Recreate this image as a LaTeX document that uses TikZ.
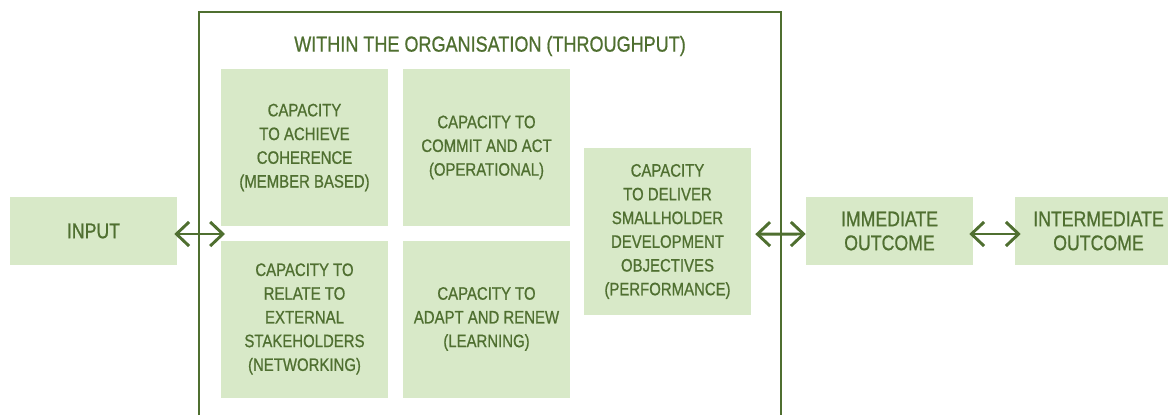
\documentclass[tikz,border=0pt]{standalone}
\usepackage{fontspec}
\setmainfont{Liberation Sans}[FakeStretch=0.83,FakeBold=0.8]
\usepackage{xcolor}
\usetikzlibrary{arrows.meta}
\definecolor{leaf}{HTML}{D8E9C8}
\definecolor{moss}{HTML}{4F6F30}

\begin{document}
\begin{tikzpicture}[x=0.75pt,y=-0.75pt,
    capbox/.style={fill=leaf,text=moss,align=center,inner sep=0pt,
        minimum width=125.25pt,minimum height=117.75pt,
        font=\fontsize{13.5}{17.8}\selectfont},
    endbox/.style={capbox,minimum height=51pt,font=\fontsize{16}{18}\selectfont},
    link/.style={draw=moss,line width=2.2pt,
        {Straight Barb[length=9.5pt,width=18pt]}-{Straight Barb[length=9.5pt,width=18pt]}}]
                \useasboundingbox (0,0) rectangle (1168,415);
                \draw [moss,line width=1.75pt] (199,415) -- (199,12) -- (781,12) -- (781,415);
                \node [text=moss,font=\fontsize{16.3}{18}\selectfont] (title) at (490,46) {WITHIN THE ORGANISATION (THROUGHPUT)};
                \node [capbox] (achieve) at (304.5,147.5) {CAPACITY\\TO ACHIEVE\\COHERENCE\\(MEMBER BASED)};
                \node [capbox] (commit) at (486.5,147.5) {CAPACITY TO\\COMMIT AND ACT\\(OPERATIONAL)};
                \node [capbox] (relate) at (304.5,319) {CAPACITY TO\\RELATE TO\\EXTERNAL\\STAKEHOLDERS\\(NETWORKING)};
                \node [capbox] (adapt) at (486.5,319) {CAPACITY TO\\ADAPT AND RENEW\\(LEARNING)};
                \node [capbox,minimum height=125.25pt] (deliver) at (667.5,231.5) {CAPACITY\\TO DELIVER\\SMALLHOLDER\\DEVELOPMENT\\OBJECTIVES\\(PERFORMANCE)};
                \node [endbox] (input) at (93.5,231) {INPUT};
                \node [endbox] (immediate) at (889.5,231) {IMMEDIATE\\OUTCOME};
                \node [endbox] (intermediate) at (1098.5,231) {INTERMEDIATE\\OUTCOME};
                \coordinate (inlet) at (225,234);
                \draw [link,shorten <=-2.25pt] ([yshift=-2.25pt]input.east) -- (inlet);
                \draw [link,shorten <=3pt] ([yshift=-2pt]deliver.east) -- ([yshift=-2.25pt]immediate.west);
                \draw [link,shorten <=-3pt,shorten >=-4.5pt] ([yshift=-2.25pt]immediate.east) -- ([yshift=-2.25pt]intermediate.west);
\end{tikzpicture}
\end{document}
